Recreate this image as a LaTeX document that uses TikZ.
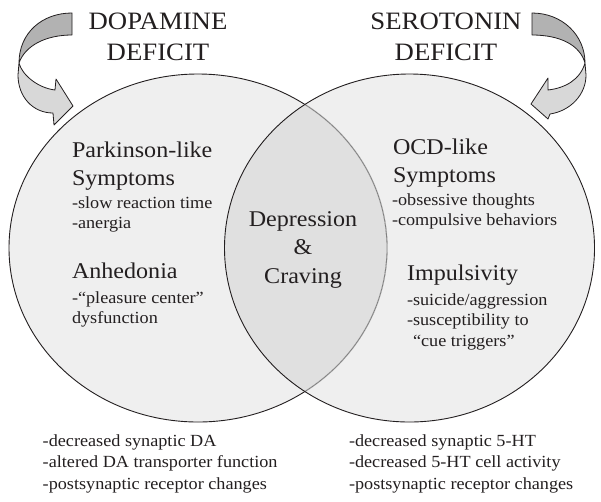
\documentclass[tikz,border=0pt]{standalone}
\usepackage{fontspec}
\setmainfont{Liberation Serif}
\usepackage{graphicx}
\definecolor{circfill}{RGB}{239,239,239}
\definecolor{lensfill}{RGB}{224,224,224}
\definecolor{arrdark}{RGB}{178,178,178}
\definecolor{arrlight}{RGB}{216,216,216}
\definecolor{inkc}{RGB}{35,31,32}
\newcommand{\wide}[1]{\scalebox{1.07}[1]{#1}}
\begin{document}
\begin{tikzpicture}[x=1pt,y=-1pt,
  outline/.style={draw=inkc, line width=0.9pt},
  arrdarkface/.style={fill=arrdark, draw=inkc, line width=0.8pt, line join=round},
  arrlightface/.style={fill=arrlight, draw=inkc, line width=0.8pt, line join=round},
  txt/.style={inner sep=0pt, outer sep=0pt, text=inkc, anchor=base west},
  titletxt/.style={txt, anchor=base, font=\fontsize{25}{31}\selectfont},
  headtxt/.style={txt, font=\fontsize{22.5}{28}\selectfont},
  centertxt/.style={txt, anchor=base, font=\fontsize{22.5}{28.5}\selectfont},
  itemtxt/.style={txt, font=\fontsize{17}{20.5}\selectfont},
  bottomtxt/.style={txt, font=\fontsize{17}{21.5}\selectfont}]
\path[use as bounding box, fill=white] (0,0) rectangle (601,501);

% fills
\fill[circfill] (198,248) ellipse [x radius=189pt, y radius=174pt];
\fill[circfill] (409.5,248) ellipse [x radius=185pt, y radius=174pt];
\begin{scope}
  \clip (409.5,248) ellipse [x radius=185pt, y radius=174pt];
  \fill[lensfill] (198,248) ellipse [x radius=189pt, y radius=174pt];
\end{scope}
% outlines
\draw[outline] (198,248) ellipse [x radius=189pt, y radius=174pt];
\begin{scope}
  \clip (409.5,248) ellipse [x radius=185pt, y radius=174pt];
  \draw[draw=lensfill, line width=1.6pt] (198,248) ellipse [x radius=189pt, y radius=174pt];
  \draw[draw=black!50, line width=0.8pt] (198,248) ellipse [x radius=189pt, y radius=174pt];
\end{scope}
\draw[outline] (409.5,248) ellipse [x radius=185pt, y radius=174pt];

% left curved arrow
\coordinate (lf) at (19,63);
\draw[arrlightface] (lf) .. controls (22,75) and (38,88) .. (55,90)
  -- (56,79) -- (73,106) -- (54,125) -- (53,113)
  .. controls (33,113) and (18,97) .. (18,75) -- cycle;
\draw[arrdarkface] (72,13) .. controls (42,13) and (19,33) .. (lf)
  .. controls (25,46) and (45,35) .. (72,35) -- cycle;

% right curved arrow
\coordinate (rf) at (585,63);
\draw[arrlightface] (rf) .. controls (580,80) and (565,88) .. (548,90)
  -- (548,78) -- (531,104) -- (548,119) -- (550,114)
  .. controls (570,111) and (586,95) .. (586,75) -- cycle;
\draw[arrdarkface] (532,13) .. controls (562,13) and (585,35) .. (rf)
  .. controls (580,45) and (560,35) .. (532,35) -- cycle;

% titles
\node[titletxt] (dopa) at (158,29) {\wide{\begin{tabular}[t]{@{}c@{}}DOPAMINE\\DEFICIT\end{tabular}}};
\node[titletxt] (sero) at (446,29) {\wide{\begin{tabular}[t]{@{}c@{}}SEROTONIN\\DEFICIT\end{tabular}}};

% left circle text
\node[headtxt] (park) at (72,157) {\wide{\begin{tabular}[t]{@{}l@{}}Parkinson-like\\Symptoms\end{tabular}}};
\node[itemtxt] (parki) at (72,208) {\wide{\begin{tabular}[t]{@{}l@{}}-slow reaction time\\-anergia\end{tabular}}};
\node[headtxt] (anh) at (72,278) {\wide{Anhedonia}};
\node[itemtxt] (anhi) at (72,303) {\wide{\begin{tabular}[t]{@{}l@{}}-“pleasure center”\\dysfunction\end{tabular}}};

% centre
\node[centertxt] (dep) at (303,226) {\wide{\begin{tabular}[t]{@{}c@{}}Depression\\\&\\Craving\end{tabular}}};

% right circle text
\node[headtxt] (ocd) at (393,154) {\wide{\begin{tabular}[t]{@{}l@{}}OCD-like\\Symptoms\end{tabular}}};
\node[itemtxt] (ocdi) at (392,205) {\wide{\begin{tabular}[t]{@{}l@{}}-obsessive thoughts\\-compulsive behaviors\end{tabular}}};
\node[headtxt] (imp) at (407,280) {\wide{Impulsivity}};
\node[itemtxt] (impi) at (407,305) {\wide{\begin{tabular}[t]{@{}l@{}}-suicide/aggression\\-susceptibility to\\\phantom{-}“cue triggers”\end{tabular}}};

% bottom text
\node[bottomtxt] (dab) at (42.7,446) {\wide{\begin{tabular}[t]{@{}l@{}}-decreased synaptic DA\\-altered DA transporter function\\-postsynaptic receptor changes\end{tabular}}};
\node[bottomtxt] (htb) at (349,446) {\wide{\begin{tabular}[t]{@{}l@{}}-decreased synaptic 5-HT\\-decreased 5-HT cell activity\\-postsynaptic receptor changes\end{tabular}}};
\end{tikzpicture}
\end{document}
